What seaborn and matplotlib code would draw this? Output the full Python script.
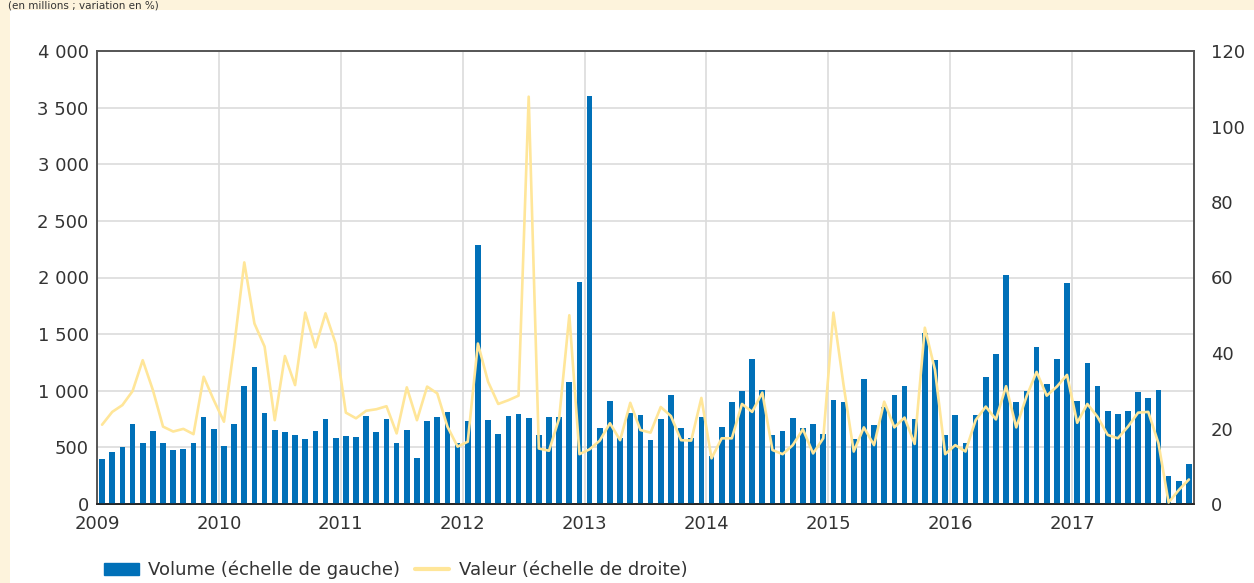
import numpy as np
import pandas as pd
import matplotlib.pyplot as plt
import matplotlib.patches as mpatches
import matplotlib.lines as mlines
from matplotlib.ticker import FuncFormatter, FixedLocator
import seaborn as sns

# ── Data (monthly, Jan 2009 -> Dec 2017) ─────────────────────
years = [str(y) for y in range(2009, 2018)]

volume = [
    400, 460, 500, 705, 540, 645, 540, 475, 485, 540, 770, 665,      # 2009
    510, 705, 1040, 1210, 805, 655, 635, 610, 575, 645, 750, 580,    # 2010
    600, 590, 775, 635, 750, 540, 655, 410, 735, 770, 810, 540,      # 2011
    735, 2285, 740, 620, 775, 795, 760, 610, 770, 770, 1075, 1960,   # 2012
    3600, 670, 910, 580, 805, 785, 565, 750, 965, 670, 580, 770,     # 2013
    420, 680, 900, 1000, 1280, 1010, 610, 645, 760, 670, 705, 620,   # 2014
    920, 900, 575, 1105, 700, 860, 965, 1040, 750, 1510, 1270, 610,  # 2015
    785, 540, 785, 1120, 1325, 2020, 900, 1000, 1385, 1060, 1280, 1950,  # 2016
    910, 1245, 1040, 820, 795, 820, 990, 935, 1005, 250, 205, 355,   # 2017
]

valeur = [
    21.0, 24.4, 26.2, 29.9, 38.1, 30.2, 20.5, 19.2, 19.9, 18.5, 33.7, 27.5,
    21.8, 41.7, 64.0, 47.8, 41.7, 22.2, 39.2, 31.5, 50.7, 41.5, 50.5, 42.5,
    24.2, 22.7, 24.7, 25.1, 25.9, 18.7, 30.9, 22.2, 31.1, 29.3, 20.5, 15.2,
    16.5, 42.5, 32.4, 26.5, 27.5, 28.7, 107.9, 14.7, 14.1, 22.7, 50.0, 13.2,
    14.5, 16.8, 21.4, 16.9, 26.8, 19.6, 18.9, 25.7, 23.3, 16.9, 16.8, 28.1,
    12.1, 17.4, 17.4, 26.5, 24.4, 29.5, 14.3, 13.2, 15.6, 19.8, 13.4, 17.4,
    50.7, 31.5, 13.9, 20.3, 15.6, 27.1, 20.3, 22.9, 15.9, 46.7, 35.5, 13.2,
    15.6, 13.9, 22.2, 25.8, 22.4, 31.2, 20.3, 28.4, 35.0, 28.7, 31.1, 34.2,
    21.5, 26.5, 23.1, 18.3, 17.4, 20.5, 24.2, 24.4, 16.1, 0.4, 3.7, 6.5,
]

df = pd.DataFrame({"mois": np.arange(len(volume)), "volume": volume, "valeur": valeur})

# ── Style ────────────────────────────────────────────────────
CREAM = "#FDF3DC"
BLUE = "#0070B8"
YELLOW = "#FFE699"
GRID = "#DCDCDC"
TEXT = "#333333"
SPINE = "#555555"

sns.set_style("white")
plt.rcParams["font.family"] = ["DejaVu Sans"]

fig = plt.figure(figsize=(12.54, 5.83), dpi=100)
fig.patch.set_facecolor(CREAM)
# white panel behind the chart
fig.patches.append(mpatches.Rectangle((10 / 1254, 0), 1, 1 - 10 / 583,
                                      transform=fig.transFigure,
                                      facecolor="white", edgecolor="none", zorder=-5))
fig.text(8 / 1254, 1.0, "(en millions ; variation en %)", ha="left", va="top",
         fontsize=7.5, color=TEXT)

ax1 = fig.add_axes([97 / 1254, 79 / 583, 1097 / 1254, 453 / 583])
ax1.set_facecolor("none")

sns.barplot(data=df, x="mois", y="volume", color=BLUE, width=0.56,
            saturation=1, linewidth=0, ax=ax1, zorder=3)

ax2 = ax1.twinx()
sns.lineplot(data=df, x="mois", y="valeur", color=YELLOW, lw=1.9, ax=ax2, zorder=4)

n = len(volume)
ax1.set_xlim(-0.5, n - 0.5)
ax1.set_ylim(0, 4000)
ax2.set_ylim(0, 120)

# year boundaries
year_pos = [-0.5 + 12 * i for i in range(len(years))]
ax1.xaxis.set_major_locator(FixedLocator(year_pos))
ax1.set_xticklabels(years)
ax1.set_yticks(np.arange(0, 4001, 500))
ax1.yaxis.set_major_formatter(FuncFormatter(lambda v, p: f"{int(v):,}".replace(",", " ")))
ax2.set_yticks(np.arange(0, 121, 20))

ax1.grid(True, color=GRID, lw=1.2, zorder=0)
ax1.set_axisbelow(True)
ax2.grid(False)

for ax in (ax1, ax2):
    ax.set_xlabel("")
    ax.set_ylabel("")
    ax.tick_params(length=0, labelsize=13, colors=TEXT)
    for s in ax.spines.values():
        s.set_color(SPINE)
        s.set_linewidth(1.2)
ax1.tick_params(axis="y", pad=6)
ax1.tick_params(axis="x", pad=8)
ax2.tick_params(axis="y", pad=12)
ax1.spines["bottom"].set_color("#222222")
ax2.spines["bottom"].set_color("#222222")

handles = [
    mpatches.Patch(color=BLUE, label="Volume (échelle de gauche)"),
    mlines.Line2D([], [], color=YELLOW, lw=3, label="Valeur (échelle de droite)"),
]
fig.legend(handles=handles, loc="center left", bbox_to_anchor=(88 / 1254, 13 / 583),
           ncol=2, frameon=False, fontsize=13, handlelength=1.9, handleheight=0.6,
           handletextpad=0.55, columnspacing=0.8, labelcolor=TEXT)

fig.savefig("out.png", dpi=100, facecolor=CREAM)
